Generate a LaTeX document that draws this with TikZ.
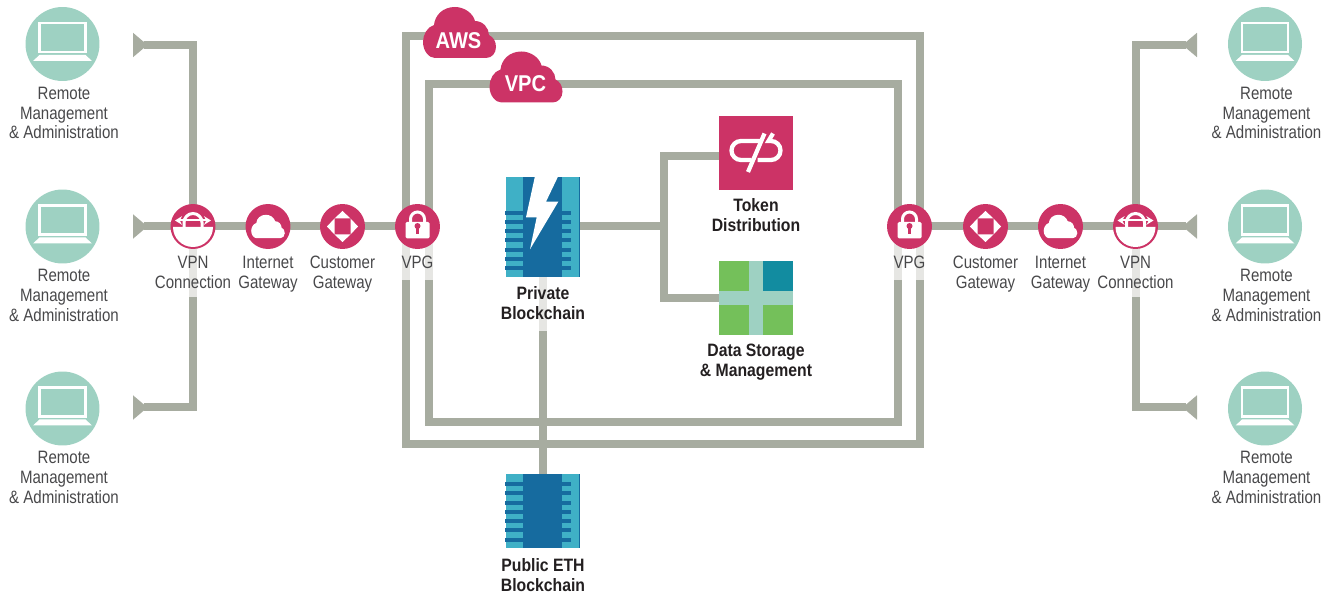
\documentclass[tikz,border=0pt]{standalone}
\usepackage{fontspec}
\setmainfont[FakeStretch=0.84,BoldFeatures={FakeStretch=0.88}]{Liberation Sans}
\usetikzlibrary{arrows.meta, positioning, backgrounds}

\definecolor{wire}{HTML}{A7ACA0}
\definecolor{wirepale}{HTML}{E6E6E3}
\definecolor{rose}{HTML}{CC3366}
\definecolor{mint}{HTML}{9ED1C2}
\definecolor{chipteal}{HTML}{3FB0C6}
\definecolor{chipblue}{HTML}{166B9F}
\definecolor{leaf}{HTML}{74C05A}
\definecolor{sea}{HTML}{128CA0}
\definecolor{inktext}{HTML}{48484A}
\definecolor{inkbold}{HTML}{231F20}

\tikzset{
    x=0.02cm, y=-0.02cm,
    wireline/.style={draw=wire, line width=0.16cm},
    paleline/.style={draw=wirepale, line width=0.16cm},
    feed/.style={wireline, {Triangle[reversed, length=0.29cm, width=0.47cm]}-},
    frame/.style={draw=wire, line width=0.16cm, inner sep=0pt, outer sep=0pt},
    roundel/.style={circle, fill=rose, minimum size=0.9cm, inner sep=0pt, outer sep=0pt},
    terminal/.style={circle, fill=mint, minimum size=1.48cm, inner sep=0pt, outer sep=0pt},
    tile/.style={fill=rose, minimum size=1.48cm, inner sep=0pt, outer sep=0pt},
    thin label/.style={text=inktext, font=\fontsize{10.2}{11.3}\selectfont, align=center, inner sep=0pt},
    bold label/.style={text=inkbold, font=\fontsize{10.2}{11.3}\selectfont\bfseries, align=center, inner sep=0pt},
    cloud label/.style={text=white, font=\fontsize{13}{14}\selectfont\bfseries, inner sep=0pt},
    % icons are drawn round the centre of their node
    cloudicon/.pic={
        \fill[pic actions, shift={(-36.5,-25.5)}] (12,51) -- (63,51)
            .. controls (69,51) and (73,46) .. (73,40)
            .. controls (73,34) and (70,30) .. (66,28)
            .. controls (66,21) and (60,14) .. (52,14)
            .. controls (50,6) and (41,0) .. (32,0)
            .. controls (20,0) and (12,8) .. (11,18)
            .. controls (4,20) and (0,28) .. (0,35)
            .. controls (0,44) and (6,51) .. (12,51) -- cycle;
    },
    laptopicon/.pic={
        \draw[white, line width=0.045cm] (-23,-21) rectangle (23,8);
        \fill[white] (-23,11) -- (23,11) -- (29.5,17) -- (-29.5,17) -- cycle;
    },
    gatewayicon/.pic={
        \fill[white] (-15.5,0) -- (-8,-8) -- (-8,8) -- cycle;
        \fill[white] (15.5,0) -- (8,-8) -- (8,8) -- cycle;
        \fill[white] (0,-15.5) -- (-8,-8) -- (8,-8) -- cycle;
        \fill[white] (0,15.5) -- (-8,8) -- (8,8) -- cycle;
    },
    lockicon/.pic={
        \draw[white, line width=0.06cm] (-7,-4) -- (-7,-7.5) arc[start angle=180, end angle=360, radius=7] -- (7,-4);
        \fill[white, rounded corners=0.03cm] (-12,-4.5) rectangle (12,12);
        \fill[rose] (0,-0.5) circle[radius=3];
        \fill[rose] (-1.2,-0.5) rectangle (1.2,7.5);
    },
    vpnicon/.pic={
        \fill[white] (-20,0.5) arc[start angle=180, end angle=0, radius=20] -- cycle;
        \draw[white, line width=0.06cm] (-9,1) -- (-9,-4) arc[start angle=180, end angle=360, radius=9] -- (9,1);
        \draw[white, line width=0.04cm, {Stealth[length=0.14cm, width=0.17cm]}-{Stealth[length=0.14cm, width=0.17cm]}] (-18,-6) -- (18,-6);
    },
    chipicon/.pic={
        \fill[chipteal] (-37,0) rectangle (37,#1);
        \fill[chipblue] (-20,0) rectangle (19,#1);
        \fill[chipblue] (36.4,0) rectangle (37,#1);
        \foreach \yy in {0,9,18.5,27.5,37,46,55.5} {
            \fill[chipblue] (-38,{#1-66+\yy}) rectangle (-20,{#1-62+\yy});
            \fill[chipblue] (19,{#1-66+\yy}) rectangle (28,{#1-62+\yy});
        }
    },
    bolticon/.pic={
        \fill[white] (-8,-50.5) -- (15.3,-50.5) -- (3,-24.8) -- (15.3,-24.8) -- (-13,22.8) -- (-6.3,-9.2) -- (-17,-9.2) -- cycle;
    },
    tokenicon/.pic={
        \draw[white, line width=0.085cm] (6,-12) -- (-15,-12) arc[start angle=-90, end angle=-270, radius=9.5] -- (-4.5,7);
        \draw[white, line width=0.085cm] (17,-19.5) -- (12.5,-12) -- (15,-12) arc[start angle=-90, end angle=90, radius=9.5] -- (1.5,7);
        \draw[white, line width=0.085cm] (8.5,-19.5) -- (-8,19);
    },
    storeicon/.pic={
        \fill[mint] (-7,-37) rectangle (7,37);
        \fill[mint] (-37,-7) rectangle (37,7);
        \fill[sea] (7,-37) rectangle (37,-7);
    },
}

\begin{document}
\begin{tikzpicture}
    \useasboundingbox (0,0) rectangle (1333,594);

    % The two boxes
    \begin{scope}[on background layer]
        \node[frame, minimum width=10.28cm, minimum height=8.16cm] (aws) at (663,240) {};
        \node[frame, minimum width=9.38cm, minimum height=6.76cm] (vpc) at (663.5,253) {};
    \end{scope}

    % Ends and corners of the wires
    \coordinate (feedL1) at (133,45);
    \coordinate (feedL2) at (133,226.5);
    \coordinate (feedL3) at (133,407.5);
    \coordinate (feedR1) at (1197,45);
    \coordinate (feedR2) at (1197,226.5);
    \coordinate (feedR3) at (1197,407.5);
    \coordinate (branch) at (664,226.5);
    \coordinate (branchtop) at (664,156);
    \coordinate (branchbot) at (664,298);

    % Gateways
    \node[roundel] (vpnL) at (193,226.5) {};
    \node[roundel] (igwL) at (268,226.5) {};
    \node[roundel] (cgwL) at (342.5,226.5) {};
    \node[roundel] (vpgL) at (417.5,226.5) {};
    \node[roundel] (vpgR) at (909.5,226.5) {};
    \node[roundel] (cgwR) at (985.5,226.5) {};
    \node[roundel] (igwR) at (1060.5,226.5) {};
    \node[roundel] (vpnR) at (1135.5,226.5) {};
    \pic at (vpnL) {vpnicon};
    \pic[white, scale=0.46] at (igwL) {cloudicon};
    \pic at (cgwL) {gatewayicon};
    \pic at (vpgL) {lockicon};
    \pic at (vpgR) {lockicon};
    \pic at (cgwR) {gatewayicon};
    \pic[white, scale=0.46] at (igwR) {cloudicon};
    \pic at (vpnR) {vpnicon};

    % Token and storage tiles
    \node[tile] (token) at (756,153) {};
    \node[tile, fill=leaf] (store) at (756,298) {};
    \pic at (token) {tokenicon};
    \pic at (store) {storeicon};

    % Chips
    \node[minimum width=1.48cm, minimum height=2cm, inner sep=0pt, outer sep=0pt] (private) at (543,226.5) {};
    \node[minimum size=1.48cm, inner sep=0pt, outer sep=0pt] (public) at (543,511) {};
    \pic at (private.north) {chipicon=100};
    \pic at (private) {bolticon};
    \pic at (public.north) {chipicon=74};

    % Connectors
    \begin{scope}[on background layer]
        \draw[feed] (feedL1) -| (vpnL.center);
        \draw[feed] (feedL3) -| (vpnL.center);
        \draw[feed] (feedL2) -- (vpgL.center);
        \draw[feed] (feedR1) -| (vpnR.center);
        \draw[feed] (feedR3) -| (vpnR.center);
        \draw[feed] (feedR2) -- (vpgR.center);
        \draw[wireline] (private.center) -- (branch);
        \draw[wireline] (token.west |- branchtop) -- (branchtop) -- (branchbot) -- (store.west);
        \draw[wireline] (private.center) -- (public.center);

        % Lighter pieces behind the labels
        \draw[paleline] (vpnL.center) -- +(0,70.5);
        \draw[paleline] (vpnR.center) -- +(0,70.5);
        \draw[paleline] (aws.west |- vpgL) -- +(0,53.5);
        \draw[paleline] (vpc.west |- vpgL) -- +(0,53.5);
        \draw[paleline] (vpc.east |- vpgR) -- +(0,53.5);
        \draw[paleline] (aws.east |- vpgR) -- +(0,53.5);
        \draw[paleline] (private.south) -- +(0,54.5);
    \end{scope}

    % Clouds on the frames
    \pic[rose] at (459.5,32.5) {cloudicon};
    \pic[rose] at (526,77) {cloudicon};
    \node[cloud label] (awstext) at (458.5,41) {AWS};
    \node[cloud label] (vpctext) at (525.5,84) {VPC};

    % Remote machines
    \foreach \nn/\xx/\yy in {a/62.5/44,b/62.5/226.5,c/62.5/408.5,d/1265/44,e/1265/226.5,f/1265/408.5} {
        \node[terminal] (host\nn) at (\xx,\yy) {};
        \pic at (host\nn) {laptopicon};
        \node[thin label, below=0.11cm of host\nn, xshift=0.03cm] (hostlabel\nn) {Remote\\Management\\\& Administration};
    }

    % Labels
    \node[thin label, below=0.13cm of vpnL] (vpnLtext) {VPN\\Connection};
    \node[thin label, below=0.13cm of igwL] (igwLtext) {Internet\\Gateway};
    \node[thin label, below=0.13cm of cgwL] (cgwLtext) {Customer\\Gateway};
    \node[thin label, below=0.13cm of vpgL] (vpgLtext) {VPG};
    \node[thin label, below=0.13cm of vpgR] (vpgRtext) {VPG};
    \node[thin label, below=0.13cm of cgwR] (cgwRtext) {Customer\\Gateway};
    \node[thin label, below=0.13cm of igwR] (igwRtext) {Internet\\Gateway};
    \node[thin label, below=0.13cm of vpnR] (vpnRtext) {VPN\\Connection};
    \node[bold label, below=0.2cm of private] (privatetext) {Private\\Blockchain};
    \node[bold label, below=0.2cm of public] (publictext) {Public ETH\\Blockchain};
    \node[bold label, below=0.17cm of token] (tokentext) {Token\\Distribution};
    \node[bold label, below=0.18cm of store] (storetext) {Data Storage\\\& Management};
\end{tikzpicture}
\end{document}
